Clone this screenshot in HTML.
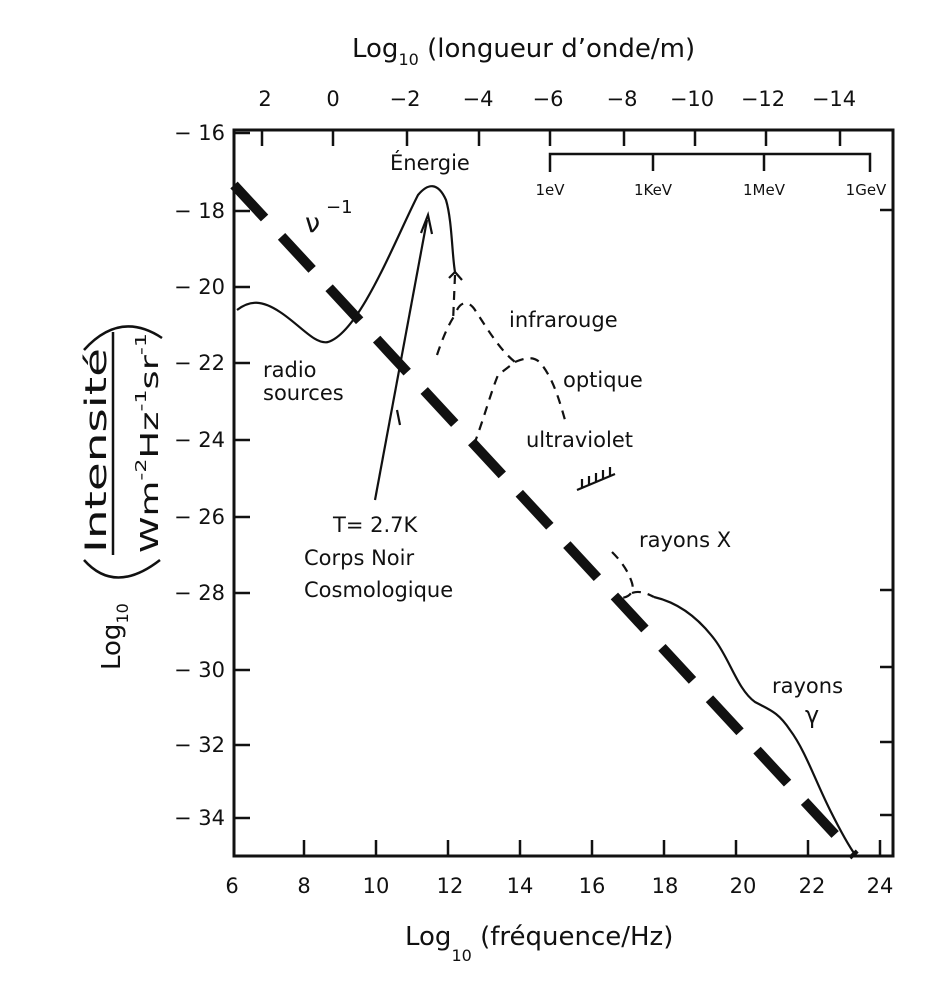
<!DOCTYPE html>
<html><head><meta charset="utf-8"><style>
html,body{margin:0;padding:0;background:#fff}
svg{display:block}
text{font-family:"DejaVu Sans","Liberation Sans",sans-serif;fill:#111}
</style></head><body>
<svg width="952" height="987" viewBox="0 0 952 987" xmlns="http://www.w3.org/2000/svg">
<g stroke="#111" fill="none" stroke-width="3">
<path d="M234 130 H893 V856 H234 Z"/>
</g>
<g stroke="#111" stroke-width="2.5">
<line x1="234" y1="133" x2="250" y2="133"/>
<line x1="234" y1="211" x2="250" y2="211"/>
<line x1="234" y1="287" x2="250" y2="287"/>
<line x1="234" y1="363" x2="250" y2="363"/>
<line x1="234" y1="440" x2="250" y2="440"/>
<line x1="234" y1="517" x2="250" y2="517"/>
<line x1="234" y1="593" x2="250" y2="593"/>
<line x1="234" y1="670" x2="250" y2="670"/>
<line x1="234" y1="745" x2="250" y2="745"/>
<line x1="234" y1="818" x2="250" y2="818"/>
<line x1="880" y1="210" x2="893" y2="210"/>
<line x1="880" y1="590" x2="893" y2="590"/>
<line x1="880" y1="667" x2="893" y2="667"/>
<line x1="880" y1="742" x2="893" y2="742"/>
<line x1="880" y1="815" x2="893" y2="815"/>
<line x1="304" y1="856" x2="304" y2="840"/>
<line x1="376" y1="856" x2="376" y2="840"/>
<line x1="448" y1="856" x2="448" y2="840"/>
<line x1="520" y1="856" x2="520" y2="840"/>
<line x1="592" y1="856" x2="592" y2="840"/>
<line x1="664" y1="856" x2="664" y2="840"/>
<line x1="736" y1="856" x2="736" y2="840"/>
<line x1="808" y1="856" x2="808" y2="840"/>
<line x1="880" y1="856" x2="880" y2="840"/>
<line x1="262" y1="130" x2="262" y2="146"/>
<line x1="333" y1="130" x2="333" y2="146"/>
<line x1="407" y1="130" x2="407" y2="146"/>
<line x1="479" y1="130" x2="479" y2="146"/>
<line x1="550" y1="130" x2="550" y2="146"/>
<line x1="624" y1="130" x2="624" y2="146"/>
<line x1="695" y1="130" x2="695" y2="146"/>
<line x1="766" y1="130" x2="766" y2="146"/>
<line x1="840" y1="130" x2="840" y2="146"/>
</g>
<path d="M550 172 V154 H870 V172 M653 154 V171 M764 154 V171" stroke="#111" stroke-width="2.5" fill="none"/>
<g font-size="15">
<text x="550" y="195" text-anchor="middle">1eV</text>
<text x="653" y="195" text-anchor="middle">1KeV</text>
<text x="764" y="195" text-anchor="middle">1MeV</text>
<text x="866" y="195" text-anchor="middle">1GeV</text>
</g>
<g font-size="21">
<text x="265" y="106" text-anchor="middle">2</text>
<text x="333" y="106" text-anchor="middle">0</text>
<text x="405" y="106" text-anchor="middle">−2</text>
<text x="478" y="106" text-anchor="middle">−4</text>
<text x="548" y="106" text-anchor="middle">−6</text>
<text x="622" y="106" text-anchor="middle">−8</text>
<text x="692" y="106" text-anchor="middle">−10</text>
<text x="763" y="106" text-anchor="middle">−12</text>
<text x="834" y="106" text-anchor="middle">−14</text>
<g text-anchor="end">
<text x="225" y="140">− 16</text>
<text x="225" y="218">− 18</text>
<text x="225" y="294">− 20</text>
<text x="225" y="370">− 22</text>
<text x="225" y="447">− 24</text>
<text x="225" y="524">− 26</text>
<text x="225" y="600">− 28</text>
<text x="225" y="677">− 30</text>
<text x="225" y="752">− 32</text>
<text x="225" y="825">− 34</text>
</g>
<g text-anchor="middle">
<text x="232" y="893">6</text><text x="304" y="893">8</text><text x="376" y="893">10</text>
<text x="450" y="893">12</text><text x="520" y="893">14</text><text x="592" y="893">16</text>
<text x="665" y="893">18</text><text x="743" y="893">20</text><text x="812" y="893">22</text><text x="880" y="893">24</text>
</g>
</g>
<g font-size="26">
<text x="352" y="57">Log<tspan font-size="16" dy="8">10</tspan><tspan dy="-8"> (longueur d’onde/m)</tspan></text>
<text x="405" y="945">Log<tspan font-size="16" dy="16">10</tspan><tspan dy="-16"> (fréquence/Hz)</tspan></text>
</g>
<g transform="translate(120,680) rotate(-90)">
<text x="10" y="0" font-size="26">Log<tspan font-size="16" dy="8">10</tspan></text>
<text x="127" y="-14" font-size="29" textLength="205" lengthAdjust="spacingAndGlyphs">Intensité</text>
<text x="127" y="38" font-size="25" textLength="220" lengthAdjust="spacingAndGlyphs">Wm<tspan font-size="15" dy="-12">-2</tspan><tspan dy="12">Hz</tspan><tspan font-size="15" dy="-12">-1</tspan><tspan dy="12">sr</tspan><tspan font-size="15" dy="-12">-1</tspan></text>
</g>
<line x1="113" y1="332" x2="113" y2="555" stroke="#111" stroke-width="2.5"/>
<path d="M84 560 Q115 595 160 560 M84 350 Q120 310 162 338" stroke="#111" stroke-width="2.5" fill="none"/>
<line x1="234" y1="185" x2="855" y2="856" stroke="#111" stroke-width="10" stroke-dasharray="45 25"/>
<g stroke="#111" stroke-width="2.2" fill="none">
<path d="M237 310 C250 300 262 300 280 312 C300 325 315 345 328 342 C360 332 395 240 418 195 C428 183 438 182 446 200 C452 220 452 255 455 272 L462 280"/>
<path d="M455 272 L449 278"/>
<path d="M375 500 L427 220"/>
<path d="M421 233 L428 215 L432 234"/>
<path d="M397 410 L400 425"/>
<path d="M654 597 C680 603 700 620 715 640 C730 660 738 690 755 702 C770 710 778 712 790 730 C805 750 815 780 830 810 C840 830 848 845 856 856"/>
<path d="M577 490 L615 474 M582 488 V479 M589 485 V476 M596 482 V473 M603 479 V470 M610 476 V467"/>
</g>
<g stroke="#111" stroke-width="2.2" fill="none" stroke-dasharray="9 7">
<path d="M455 275 L453 322 M457 310 C462 300 470 302 475 310 C488 330 500 350 515 362 L498 375 C490 395 485 415 475 442"/>
<path d="M437 355 C442 340 448 325 455 315"/>
<path d="M515 362 C525 358 535 355 542 365 C552 378 558 395 565 420"/>
<path d="M612 552 C620 560 628 570 632 583 C635 593 628 598 620 598 M632 593 C640 590 648 594 654 597"/>
</g>
<g font-size="21">
<text x="390" y="170">Énergie</text>
<text x="305" y="232" font-size="27">ν</text>
<text x="326" y="213" font-size="18">−1</text>
<text x="263" y="377">radio</text>
<text x="263" y="400">sources</text>
<text x="509" y="327">infrarouge</text>
<text x="563" y="387">optique</text>
<text x="526" y="447">ultraviolet</text>
<text x="333" y="532">T= 2.7K</text>
<text x="304" y="565">Corps Noir</text>
<text x="304" y="597">Cosmologique</text>
<text x="639" y="547">rayons X</text>
<text x="772" y="693">rayons</text>
<text x="805" y="723" font-size="24">γ</text>
</g>
</svg>
</body></html>
